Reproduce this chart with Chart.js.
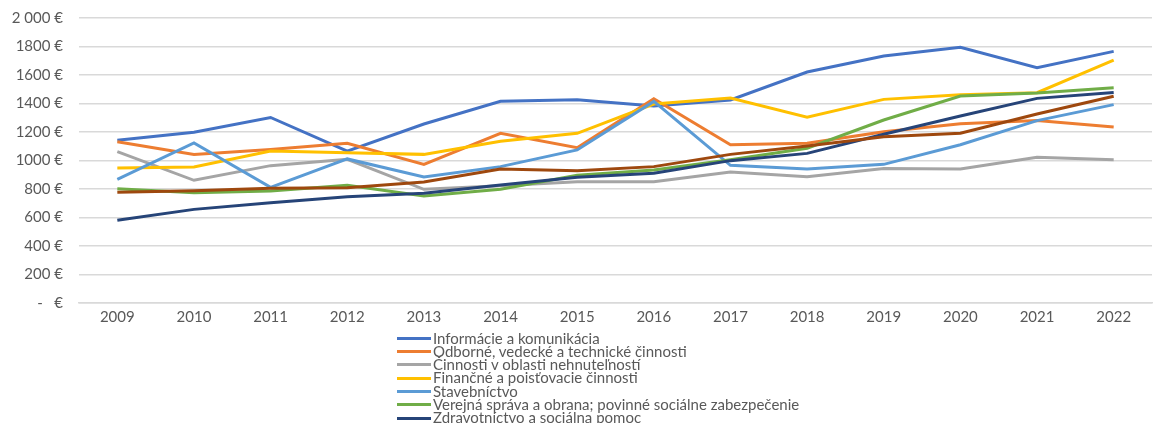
<!DOCTYPE html>
<html lang="sk">
<head>
<meta charset="utf-8">
<title>Priemerná mzda podľa odvetví</title>
<script src="https://cdn.jsdelivr.net/npm/chart.js@4.4.1/dist/chart.umd.min.js"></script>
<style>
    html, body { margin: 0; padding: 0; background: #fff; overflow: hidden; }
    #wrap { position: relative; width: 1153px; height: 330px; }
    #legend {
        position: absolute; left: 397px; top: 331.6px;
        font-family: Lato, sans-serif; font-size: 15px; color: #595959;
    }
    .item { display: flex; align-items: center; white-space: nowrap; height: 13.3px; line-height: 13.3px; }
    .swatch { width: 34px; height: 3px; margin-right: 2px; }
</style>
</head>
<body>
<div id="wrap"><canvas id="wagesChart"></canvas></div>
<div id="legend"></div>
<script>
// Roky
const years = ['2009', '2010', '2011', '2012', '2013', '2014', '2015', '2016', '2017', '2018', '2019', '2020', '2021', '2022'];

// Popisy osi Y
const yTickLabels = ['-   €', '200 €', '400 €', '600 €', '800 €', '1000 €', '1200 €', '1400 €', '1600 €', '1800 €', '2 000 €'];

// Odvetvia
const sectors = [
    'Informácie a komunikácia',
    'Odborné, vedecké a technické činnosti',
    'Činnosti v oblasti nehnuteľností',
    'Finančné a poisťovacie činnosti',
    'Stavebníctvo',
    'Verejná správa a obrana; povinné sociálne zabezpečenie',
    'Zdravotníctvo a sociálna pomoc',
    'Priemyselná výroba'
];

// Priemerné mzdy (€)
const infoData = [1142, 1198, 1302, 1066, 1256, 1415, 1427, 1382, 1425, 1621, 1733, 1794, 1651, 1766];
const odborneData = [1132, 1043, 1078, 1121, 973, 1191, 1090, 1434, 1111, 1121, 1202, 1258, 1280, 1235];
const nehnutelnostiData = [1062, 861, 964, 1008, 798, 822, 851, 851, 919, 886, 943, 940, 1022, 1006];
const financneData = [947, 954, 1067, 1055, 1043, 1135, 1191, 1396, 1439, 1303, 1429, 1462, 1476, 1705];
const stavebnictvoData = [868, 1123, 812, 1011, 884, 957, 1074, 1415, 966, 940, 973, 1111, 1280, 1392];
const verejnaData = [802, 774, 786, 826, 751, 798, 896, 933, 1005, 1086, 1284, 1453, 1474, 1511];
const zdravotnictvoData = [580, 657, 704, 746, 770, 828, 882, 910, 999, 1050, 1184, 1312, 1436, 1478];
const priemyselData = [777, 788, 805, 809, 849, 940, 928, 957, 1043, 1102, 1167, 1191, 1326, 1451];

const seriesData = [infoData, odborneData, nehnutelnostiData, financneData, stavebnictvoData, verejnaData, zdravotnictvoData, priemyselData];
const colors = ['#4472C4', '#ED7D31', '#A5A5A5', '#FFC000', '#5B9BD5', '#70AD47', '#264478', '#9E480E'];

const fontFamily = 'Lato, sans-serif';

const chart = new Chart(document.getElementById('wagesChart').getContext('2d'), {
    type: 'line',
    data: {
        labels: years,
        datasets: sectors.map(function(name, i) {
            return {
                label: name,
                data: seriesData[i],
                borderColor: colors[i],
                backgroundColor: colors[i],
                borderWidth: 3,
                pointRadius: 0,
                tension: 0,
                order: sectors.length - i
            };
        })
    },
    options: {
        responsive: true,
        maintainAspectRatio: false,
        animation: false,
        layout: { padding: { top: 18, right: 1, left: 0, bottom: 0 } },
        plugins: {
            legend: { display: false },
            tooltip: { enabled: false }
        },
        scales: {
            x: {
                offset: true,
                grid: { display: false, drawTicks: false },
                border: { color: '#D9D9D9', width: 1.5 },
                ticks: {
                    color: '#595959',
                    font: { family: fontFamily, size: 15 },
                    padding: 5,
                    maxRotation: 0
                },
                afterFit: function(scale) {
                    scale.height = 27;
                    scale.paddingLeft = 0;
                    scale.paddingRight = 0;
                }
            },
            y: {
                min: 0,
                max: 2000,
                grid: { color: '#D9D9D9', lineWidth: 1.5, drawTicks: false },
                border: { display: false },
                ticks: {
                    stepSize: 200,
                    color: '#595959',
                    font: { family: fontFamily, size: 15 },
                    padding: 16,
                    callback: function(value) {
                        return yTickLabels[Math.round(value / 200)];
                    }
                },
                afterFit: function(scale) {
                    scale.width = 79;
                    scale.paddingTop = 0;
                    scale.paddingBottom = 0;
                }
            }
        }
    }
});

// Legenda pod grafom, jeden riadok na položku
const legendEl = document.getElementById('legend');
chart.data.datasets.forEach(function(ds) {
    const row = document.createElement('div');
    row.className = 'item';
    const sw = document.createElement('span');
    sw.className = 'swatch';
    sw.style.background = ds.borderColor;
    const txt = document.createElement('span');
    txt.textContent = ds.label;
    row.appendChild(sw);
    row.appendChild(txt);
    legendEl.appendChild(row);
});
</script>
</body>
</html>
